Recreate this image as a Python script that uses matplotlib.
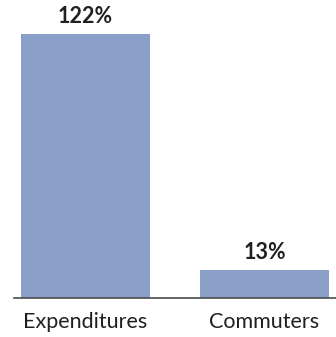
import numpy as np
import matplotlib.pyplot as plt

categories = ['Expenditures', 'Commuters']
values = [122, 13]
labels = ['122%', '13%']

bar_color = '#8a9fc8'
text_color = '#231f20'

W, H = 336, 337
fig = plt.figure(figsize=(W / 100, H / 100), dpi=100)
# axes spans from the baseline (y=298px) up to the top edge
ax = fig.add_axes([14 / W, (H - 298) / H, (W - 14) / W, 298 / H])

x = np.arange(len(categories))
bars = ax.bar(x, values, width=0.72, color=bar_color)

ax.set_xlim(-0.4, 1.4)
ax.set_ylim(0, 122 * 298 / 264)

for rect, lab in zip(bars, labels):
    ax.annotate(lab, (rect.get_x() + rect.get_width() / 2, rect.get_height()),
                xytext=(0, 8), textcoords='offset points', ha='center', va='baseline',
                fontsize=15.5, fontweight='bold', family='Lato', color=text_color)

for xi, cat in zip(x, categories):
    ax.annotate(cat, (xi, 0), xytext=(0, -21.5), textcoords='offset points',
                ha='center', va='baseline', fontsize=15.5, family='Lato', color=text_color)

for s in ['top', 'right', 'left']:
    ax.spines[s].set_visible(False)
ax.spines['bottom'].set_color('#4d4d4d')
ax.spines['bottom'].set_linewidth(1.2)
ax.set_xticks([])
ax.set_yticks([])

fig.savefig('out.png', dpi=100)
